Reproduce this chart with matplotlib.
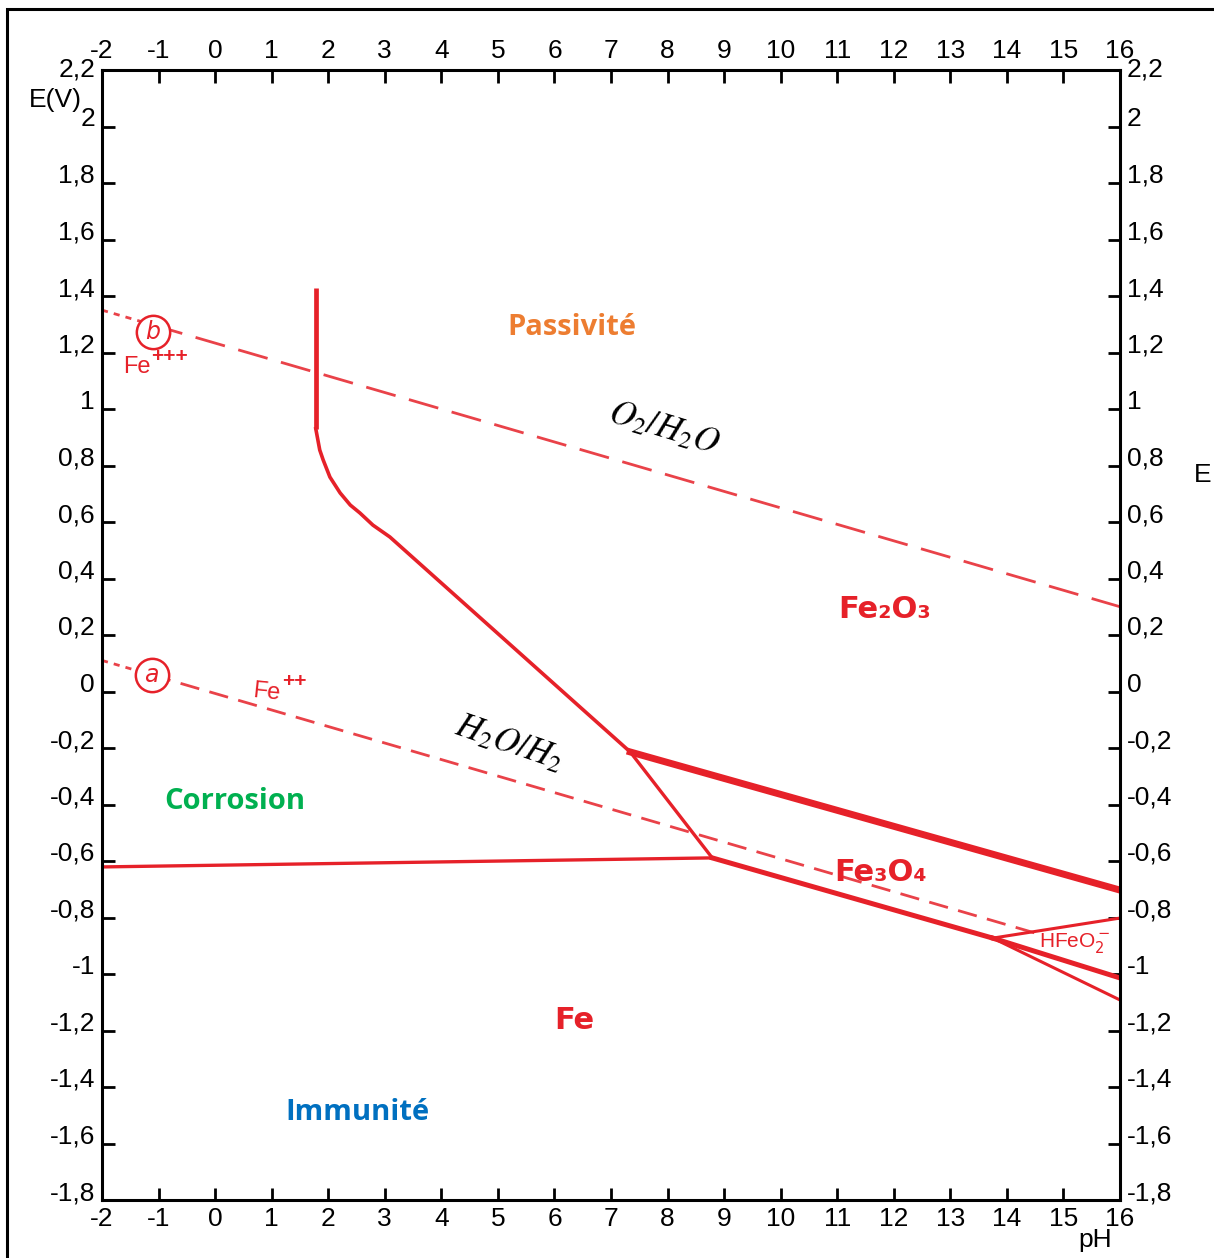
import numpy as np
import matplotlib
matplotlib.use("Agg")
import matplotlib.pyplot as plt
from matplotlib.patches import Rectangle

# --- data ---
x_ticks = list(range(-2, 17))
y_ticks = [2.2, 2.0, 1.8, 1.6, 1.4, 1.2, 1.0, 0.8, 0.6, 0.4, 0.2, 0.0,
           -0.2, -0.4, -0.6, -0.8, -1.0, -1.2, -1.4, -1.6, -1.8]

# water lines
o2_h2o_ph = [-2, 16]
o2_h2o_e = [1.35, 0.30]
h2o_h2_ph = [-2, 14.5]
h2o_h2_e = [0.11, -0.855]

# Fe3+ / Fe2O3 / Fe2+ boundary (vertical then curved)
fe3_vert_ph = [1.78, 1.78]
fe3_vert_e = [1.43, 0.93]
fe2_fe2o3_ph = [1.78, 1.85, 1.91, 2.03, 2.21, 2.39, 2.56, 2.79, 3.09, 7.34]
fe2_fe2o3_e = [0.93, 0.855, 0.82, 0.759, 0.703, 0.66, 0.632, 0.589, 0.547, -0.214]

fe2_fe3o4_ph = [7.34, 8.79]
fe2_fe3o4_e = [-0.214, -0.589]
fe_fe2_ph = [-2, 8.79]
fe_fe2_e = [-0.621, -0.589]
fe3o4_fe2o3_ph = [7.34, 16]
fe3o4_fe2o3_e = [-0.214, -0.703]
fe_fe3o4_ph = [8.79, 13.75]
fe_fe3o4_e = [-0.589, -0.873]
hfeo2_top_ph = [13.75, 16]
hfeo2_top_e = [-0.873, -0.802]
hfeo2_mid_ph = [13.75, 16]
hfeo2_mid_e = [-0.873, -1.014]
hfeo2_low_ph = [13.75, 16]
hfeo2_low_e = [-0.873, -1.092]

circle_b_ph = -1.1
circle_a_ph = -1.12

RED = "#E62129"

fig = plt.figure(figsize=(12.14, 12.58), dpi=100)
ax = fig.add_axes([102 / 1214, 1 - 1200 / 1258, 1018 / 1214, 1130 / 1258])
ax.set_xlim(-2, 16)
ax.set_ylim(-1.8, 2.2)

tick_font = ["Liberation Sans", "DejaVu Sans"]

# dashed water lines, short dots before the circle, longer dashes after
eb = np.interp(circle_b_ph, o2_h2o_ph, o2_h2o_e)
ax.plot([o2_h2o_ph[0], circle_b_ph], [o2_h2o_e[0], eb], color=RED, lw=2,
        ls=(0, (2.2, 2.2)), alpha=0.85)
ax.plot([circle_b_ph, o2_h2o_ph[1]], [eb, o2_h2o_e[1]], color=RED, lw=2,
        ls=(0, (11, 5)), alpha=0.85)
ea = np.interp(circle_a_ph, h2o_h2_ph, h2o_h2_e)
ax.plot([h2o_h2_ph[0], circle_a_ph], [h2o_h2_e[0], ea], color=RED, lw=2,
        ls=(0, (2.2, 2.2)), alpha=0.85)
ax.plot([circle_a_ph, h2o_h2_ph[1]], [ea, h2o_h2_e[1]], color=RED, lw=2,
        ls=(0, (7, 3.8)), alpha=0.85)

for ph, e, lab in [(circle_b_ph, eb - 0.025, "b"), (circle_a_ph, ea, "a")]:
    ax.plot(ph, e, "o", ms=24, mfc="white", mec=RED, mew=1.8, zorder=4)
    ax.text(ph, e, lab, color=RED, fontsize=17, style="italic",
            ha="center", va="center", zorder=5)

# solid domain boundaries
ax.plot(fe3_vert_ph, fe3_vert_e, color=RED, lw=3.4, solid_capstyle="butt")
ax.plot(fe2_fe2o3_ph, fe2_fe2o3_e, color=RED, lw=2.6, solid_joinstyle="round")
ax.plot(fe2_fe3o4_ph, fe2_fe3o4_e, color=RED, lw=2.4)
ax.plot(fe_fe2_ph, fe_fe2_e, color=RED, lw=2.4)
ax.plot(fe3o4_fe2o3_ph, fe3o4_fe2o3_e, color=RED, lw=5)
ax.plot(fe_fe3o4_ph, fe_fe3o4_e, color=RED, lw=3.6)
ax.plot(hfeo2_top_ph, hfeo2_top_e, color=RED, lw=2.2)
ax.plot(hfeo2_mid_ph, hfeo2_mid_e, color=RED, lw=3.6)
ax.plot(hfeo2_low_ph, hfeo2_low_e, color=RED, lw=2.2)

# region labels
lab_kw = dict(fontsize=21, fontweight="bold", family="Open Sans",
              ha="center", va="center")
ax.text(6.31, 1.29, "Passivité", color="#ED7D31", **lab_kw)
ax.text(0.35, -0.39, "Corrosion", color="#00B050", **lab_kw)
ax.text(2.51, -1.49, "Immunité", color="#0070C0", **lab_kw)

sp_kw = dict(fontsize=22, fontweight="bold", color=RED, ha="center", va="center")
ax.text(11.84, 0.29, "Fe₂O₃", **sp_kw)
ax.text(11.76, -0.64, "Fe₃O₄", **sp_kw)
ax.text(6.36, -1.165, "Fe", **sp_kw)

# ion labels: "Fe" with tight "+" superscripts
ion_kw = dict(color=RED, family=tick_font)
ax.text(-1.63, 1.15, "Fe", fontsize=17, ha="left", va="center", **ion_kw)
ax.annotate("+++", xy=(-1.63, 1.15), xytext=(20, 7), textcoords="offset points",
            fontsize=15, fontweight="bold", ha="left", va="center",
            **ion_kw)
ax.text(0.65, -0.005, "Fe", fontsize=17, ha="left", va="center", rotation=-6,
        **ion_kw)
ax.annotate("++", xy=(0.65, -0.005), xytext=(22, 8), textcoords="offset points",
            fontsize=15, fontweight="bold", ha="left", va="center",
            **ion_kw)
ax.text(15.2, -0.89, r"HFeO$_2^-$", color=RED, fontsize=15, family=tick_font,
        ha="center", va="center")

plt.rcParams["mathtext.fontset"] = "stix"
ax.text(7.95, 0.935, r"$O_2/H_2O$", fontsize=25, rotation=-17,
        ha="center", va="center")
ax.text(5.21, -0.18, r"$H_2O/H_2$", fontsize=25, rotation=-19,
        ha="center", va="center")

# axes and ticks
ax.set_xticks(x_ticks)
ax.set_xticklabels([str(v) for v in x_ticks])
ax.set_yticks(y_ticks)
ax.set_yticklabels([("%g" % v).replace(".", ",") for v in y_ticks])
ax.tick_params(direction="in", length=9, width=2, labelsize=19,
               top=True, right=True, labeltop=True, labelright=True, pad=5)
for i, t in enumerate(ax.yaxis.get_major_ticks()):
    t.label1.set_family(tick_font)
    t.label2.set_family(tick_font)
    va = "center" if i == 0 else "baseline"
    t.label1.set_va(va)
    t.label2.set_va(va)
for t in ax.xaxis.get_major_ticks():
    t.label1.set_family(tick_font)
    t.label2.set_family(tick_font)
for s in ax.spines.values():
    s.set_linewidth(2.2)

fig.text(55 / 1214, 1 - 100 / 1258, "E(V)", fontsize=19, family=tick_font,
         ha="center", va="center")
fig.text(1095 / 1214, 1 - 1240 / 1258, "pH", fontsize=19, family=tick_font,
         ha="center", va="center")
fig.text(1203 / 1214, 1 - 475 / 1258, "E", fontsize=19, family=tick_font,
         ha="center", va="center")

# outer frame (runs off the right and bottom edges like the source)
fig.add_artist(Rectangle((7 / 1214, -0.05), 1.1, 1 - 9 / 1258 + 0.05,
                         transform=fig.transFigure, fill=False, lw=2.2,
                         ec="black", clip_on=False))

fig.savefig("out.png", dpi=100)
